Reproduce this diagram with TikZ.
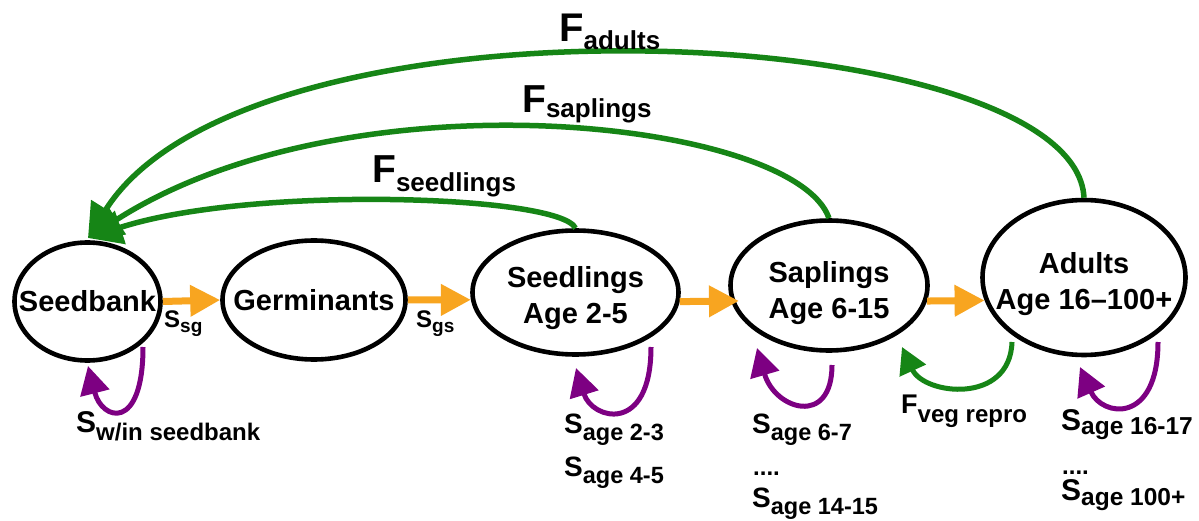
\documentclass[tikz,border=0pt]{standalone}
\usepackage{fontspec}
\setmainfont{Liberation Sans}
\usetikzlibrary{arrows.meta,shapes.geometric,calc}
\definecolor{fgreen}{RGB}{22,133,22}
\definecolor{spurple}{RGB}{125,0,130}
\definecolor{torange}{RGB}{248,165,32}
\newcommand\mylbl[5]{{\fontsize{#1}{#1}\selectfont #4}\raisebox{-#3pt}{\fontsize{#2}{#2}\selectfont #5}}
\begin{document}
\begin{tikzpicture}[x=1pt,y=-1pt,
 stage/.style={draw=black,line width=4.6pt,ellipse,inner sep=0pt},
 stagetext/.style={inner sep=0pt,align=center,font=\bfseries\fontsize{29}{36}\selectfont},
 growarrow/.style={draw=torange,line width=7pt,-{Triangle[length=30pt,width=30pt]}},
 fecarrow/.style={draw=fgreen,line width=5.5pt,-{Triangle[length=34pt,width=34pt]}},
 survarrow/.style={draw=spurple,line width=5pt,-{Triangle[length=28pt,width=29pt]}},
 vegarrow/.style={draw=fgreen,line width=5pt,-{Triangle[length=26pt,width=28pt]}},
 lbl/.style={anchor=base west,inner sep=0pt,font=\bfseries},
]
\useasboundingbox (0,0) rectangle (1199,521);
\fill[white] (0,0) rectangle (1199,521);

% stages
\node[stage,minimum width=146pt,minimum height=118pt] (sb) at (87.5,301.5) {};
\node[stage,minimum width=183pt,minimum height=119pt] (gm) at (314,300) {};
\node[stage,minimum width=206pt,minimum height=124pt] (sl) at (575.5,292.5) {};
\node[stage,minimum width=197pt,minimum height=130pt] (sp) at (829,285.5) {};
\node[stage,minimum width=203pt,minimum height=155pt] (ad) at (1084,277.5) {};

\node[stagetext] (sbtext) at (87.5,301.5) {Seedbank};
\node[stagetext] (gmtext) at (314,300) {Germinants};
\node[stagetext] (sltext) at (575.5,298.5) {Seedlings\\Age 2-5};
\node[stagetext] (sptext) at (829,293.5) {Saplings\\Age 6-15};
\node[stagetext] (adtext) at (1084,284.5) {Adults\\Age 16–100+};

% growth arrows
\draw[growarrow] (sb.east) -- (gm.west);
\draw[growarrow] (gm.east) -- (sl.184);
\draw[growarrow,shorten >=-8pt] (sl.-5) -- (sp.189);
\draw[growarrow] (sp.-9.5) -- (ad.193);

% fecundity arcs
\coordinate (ftip) at (88,238);
\draw[fecarrow] (sl.north) .. controls (560,195) and (250,185) .. (ftip);
\draw[fecarrow] (sp.north) .. controls (795,120) and (350,70) .. (ftip);
\draw[fecarrow] (ad.north) .. controls (1075,20) and (250,-20) .. (ftip);

% survival loops
\coordinate (sbs) at (143,347);  \coordinate (sbe) at (88,366);
\coordinate (sls) at (651,347);  \coordinate (sle) at (576,368);
\coordinate (sps) at (832,365);  \coordinate (spe) at (757,348);
\coordinate (ads) at (1158,342); \coordinate (ade) at (1080,367);
\coordinate (vgs) at (1012,342); \coordinate (vge) at (902,347);
\draw[survarrow] (sbs) .. controls +(0,85) and +(14,55) .. (sbe);
\draw[survarrow] (sls) .. controls +(0,88) and +(16,52) .. (sle);
\draw[survarrow] (sps) .. controls +(0,62) and +(18,62) .. (spe);
\draw[survarrow] (ads) .. controls +(0,83) and +(22,50) .. (ade);
\draw[vegarrow] (vgs) .. controls +(-2,63) and +(22,48) .. (vge);

% labels
\node[lbl] (lsg) at (164,327) {\mylbl{24}{19}{5}{S}{sg}};
\node[lbl] (lgs) at (416,327) {\mylbl{24}{19}{5}{S}{gs}};
\node[lbl] (lwin) at (76,432) {\mylbl{30}{24}{8}{S}{w/in seedbank}};
\node[lbl] (la23) at (564,433) {\mylbl{28}{23.5}{7}{S}{age 2-3}};
\node[lbl] (la45) at (564,476) {\mylbl{28}{23.5}{7}{S}{age 4-5}};
\node[lbl] (la67) at (752,433) {\mylbl{28}{23.5}{7}{S}{age 6-7}};
\node[lbl] (ldots1) at (753,475) {\fontsize{24}{24}\selectfont ....};
\node[lbl] (la1415) at (752,507) {\mylbl{28}{23.5}{7}{S}{age 14-15}};
\node[lbl] (lveg) at (901,413) {\mylbl{27}{24}{9}{F}{veg repro}};
\node[lbl] (la1617) at (1061,430) {\mylbl{30}{24.5}{4}{S}{age 16-17}};
\node[lbl] (ldots2) at (1062,474) {\fontsize{24}{24}\selectfont ....};
\node[lbl] (la100) at (1061,500) {\mylbl{30}{24.5}{5}{S}{age 100+}};
\node[lbl] (lfsl) at (372,183) {\mylbl{39}{26}{9}{F}{seedlings}};
\node[lbl] (lfsp) at (522,113) {\mylbl{39}{26}{5}{F}{saplings}};
\node[lbl] (lfad) at (559,42) {\mylbl{40}{26}{8}{F}{adults}};
\end{tikzpicture}
\end{document}
